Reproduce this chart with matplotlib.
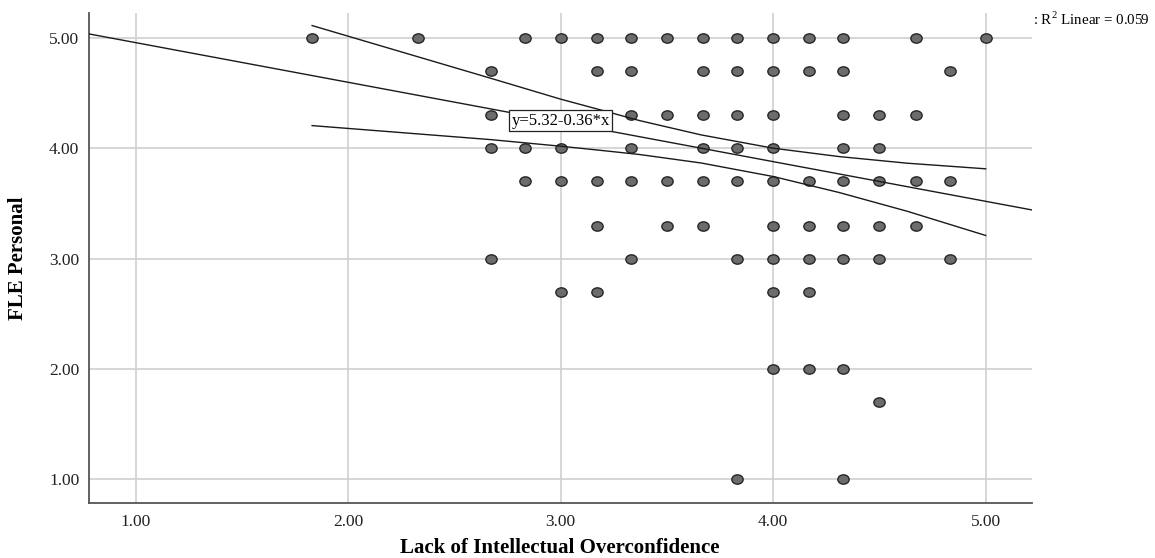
import numpy as np
import matplotlib
matplotlib.use("Agg")
import matplotlib.pyplot as plt
from matplotlib.markers import MarkerStyle
from matplotlib.transforms import Affine2D

plt.rcParams['font.family'] = ['Liberation Serif', 'DejaVu Serif']
plt.rcParams['mathtext.fontset'] = 'custom'
plt.rcParams['mathtext.rm'] = 'Liberation Serif'

######################## data ########################
# scatter rows: one list of x positions per y level
rows = {
    5.0: [1.83, 2.33, 2.83, 3.00, 3.17, 3.33, 3.50, 3.67, 3.83, 4.00, 4.17, 4.33, 4.67, 5.00],
    4.7: [2.67, 3.17, 3.33, 3.67, 3.83, 4.00, 4.17, 4.33, 4.83],
    4.3: [2.67, 3.33, 3.50, 3.67, 3.83, 4.00, 4.33, 4.50, 4.67],
    4.0: [2.67, 2.83, 3.00, 3.33, 3.67, 3.83, 4.00, 4.33, 4.50],
    3.7: [2.83, 3.00, 3.17, 3.33, 3.50, 3.67, 3.83, 4.00, 4.17, 4.33, 4.50, 4.67, 4.83],
    3.3: [3.17, 3.50, 3.67, 4.00, 4.17, 4.33, 4.50, 4.67],
    3.0: [2.67, 3.33, 3.83, 4.00, 4.17, 4.33, 4.50, 4.83],
    2.7: [3.00, 3.17, 4.00, 4.17],
    2.0: [4.00, 4.17, 4.33],
    1.7: [4.50],
    1.0: [3.83, 4.33],
}

# linear fit (from the label) and its confidence band
intercept = 5.32
slope = -0.36
r2 = 0.059
band_x = [1.83, 2.67, 3.00, 3.20, 3.37, 3.66, 4.00, 4.31, 4.63, 5.00]
band_upper = [5.115, 4.637, 4.447, 4.343, 4.253, 4.123, 4.002, 3.926, 3.866, 3.815]
band_lower = [4.207, 4.080, 4.020, 3.980, 3.945, 3.868, 3.745, 3.600, 3.430, 3.210]

ticks = [1.0, 2.0, 3.0, 4.0, 5.0]

######################## plot ########################
fig = plt.figure(figsize=(11.55, 5.58), dpi=100)
ax = fig.add_axes([89 / 1155, 55 / 558, 943 / 1155, 490 / 558])

xs = [x for y, xl in rows.items() for x in xl]
ys = [y for y, xl in rows.items() for x in xl]

ax.set_xlim(0.78, 5.218)
ax.set_ylim(0.782, 5.229)
ax.set_xticks(ticks)
ax.set_yticks(ticks)
ax.set_xticklabels(['%.2f' % t for t in ticks])
ax.set_yticklabels(['%.2f' % t for t in ticks])
ax.tick_params(length=0, labelsize=12.5, colors='#222222')
ax.tick_params(axis='x', pad=8)
ax.tick_params(axis='y', pad=7)
ax.grid(True, color='#cfcfcf', linewidth=1.2)
ax.set_axisbelow(True)
for s in ['top', 'right']:
    ax.spines[s].set_visible(False)
for s in ['left', 'bottom']:
    ax.spines[s].set_color('#555555')
    ax.spines[s].set_linewidth(1.3)

# SPSS dots are slightly wider than tall
dot = MarkerStyle('o', transform=Affine2D().scale(1.15, 0.95))
ax.scatter(xs, ys, s=50, marker=dot, facecolor='#6c6c6c', edgecolor='#262626',
           linewidth=1.0, zorder=3)

xl = np.array(ax.get_xlim())
ax.plot(xl, intercept + slope * xl, color='#1a1a1a', linewidth=1.0, zorder=4)
ax.plot(band_x, band_upper, color='#1a1a1a', linewidth=1.0, zorder=4)
ax.plot(band_x, band_lower, color='#1a1a1a', linewidth=1.0, zorder=4)

ax.text(3.0, 4.25, 'y=%.2f-%.2f*x' % (intercept, -slope), ha='center', va='center',
        fontsize=12, zorder=5,
        bbox=dict(boxstyle='square,pad=0.15', facecolor='white', edgecolor='#222222', linewidth=0.9))

fig.text(1033 / 1155, 1 - 19 / 558, ': R$^{2}$ Linear = %.3f' % r2, fontsize=10.8, ha='left', va='center')

fig.text(18 / 1155, 1 - 258 / 558, 'FLE Personal', rotation=90, fontsize=15,
         fontweight='bold', ha='center', va='center')
fig.text(560 / 1155, 1 - 548 / 558, 'Lack of Intellectual Overconfidence', fontsize=15,
         fontweight='bold', ha='center', va='center')

fig.savefig('out.png', dpi=100)
